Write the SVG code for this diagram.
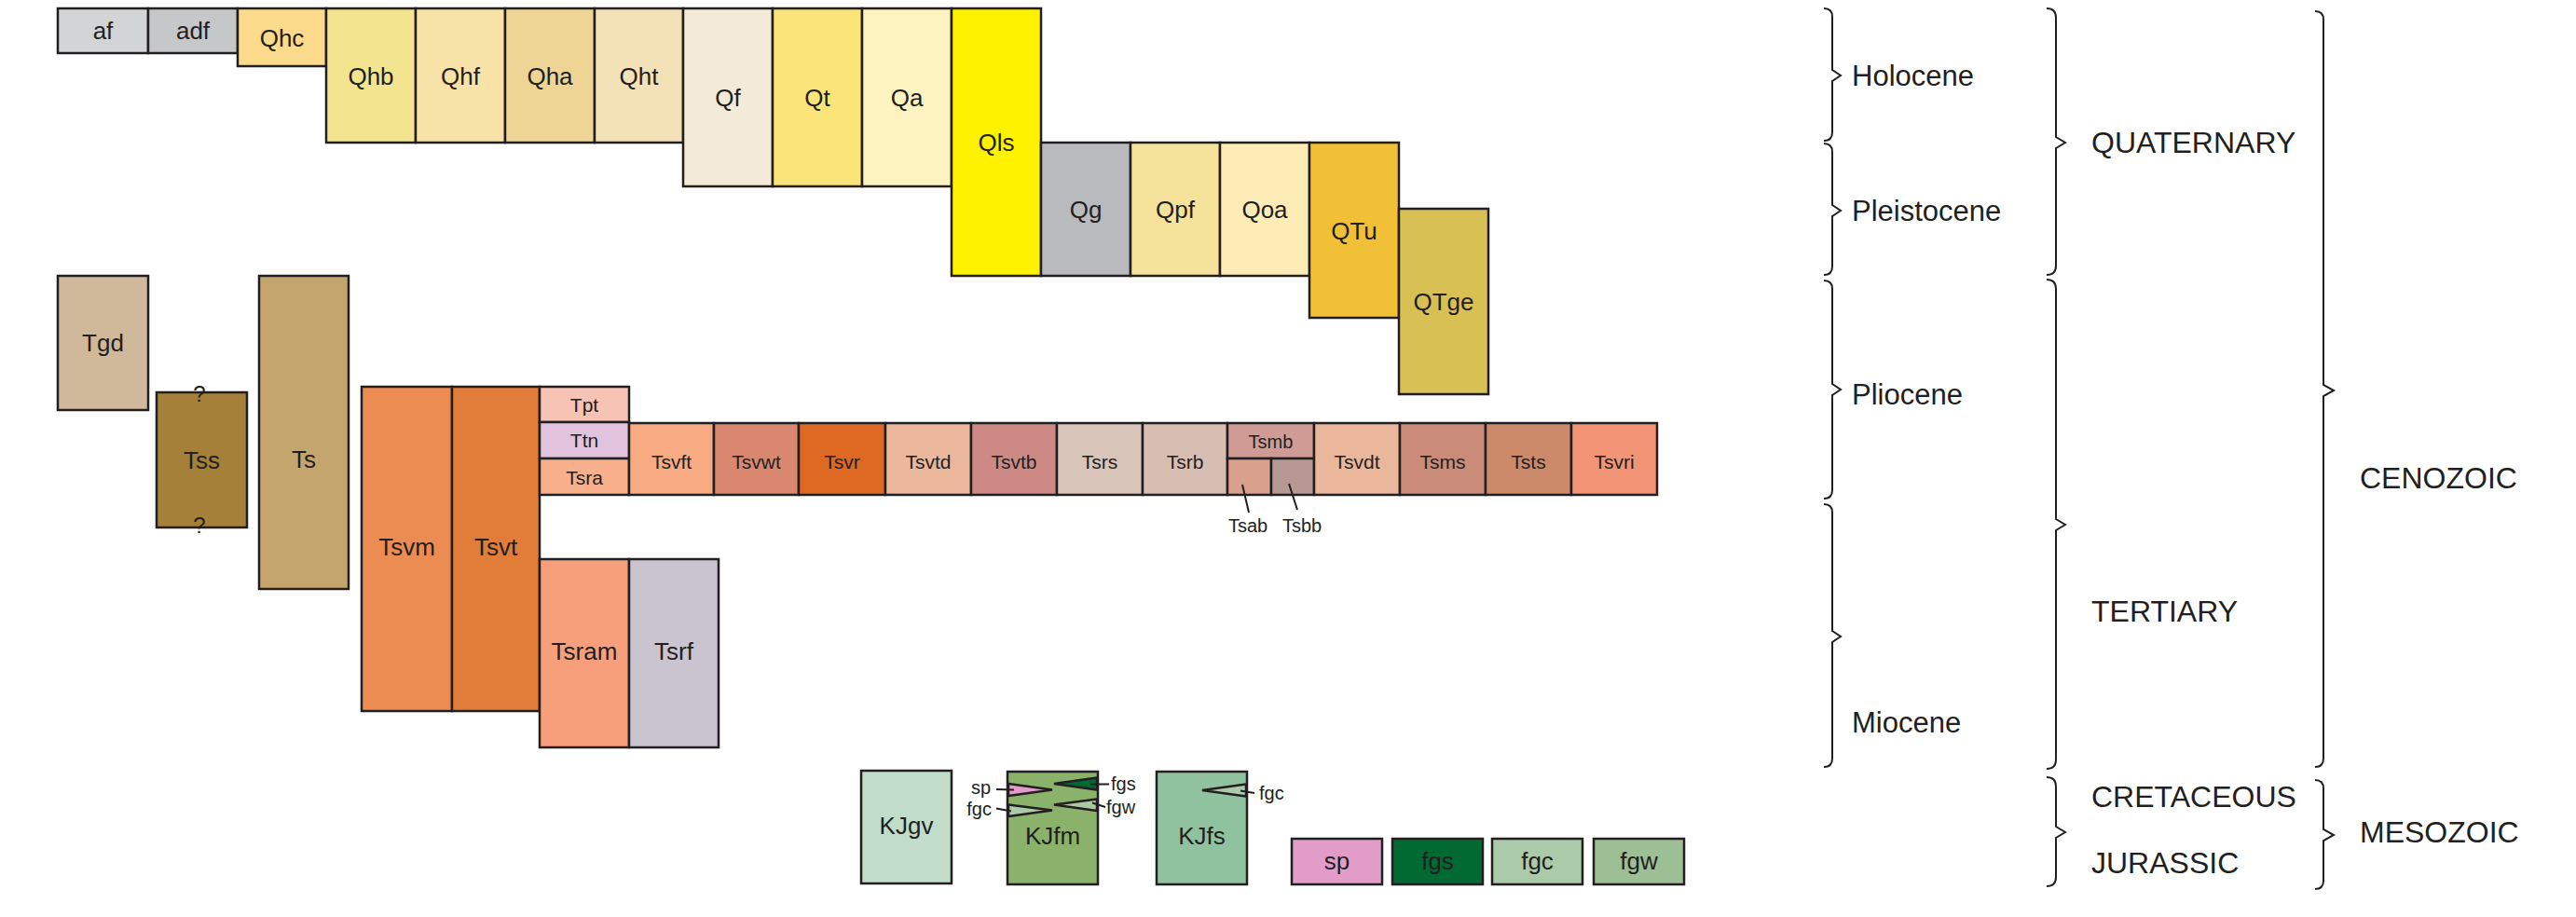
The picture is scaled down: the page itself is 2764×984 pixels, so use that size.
<svg xmlns="http://www.w3.org/2000/svg" width="2764" height="984" viewBox="0 0 2764 984">
  <style>
    .b{stroke:#231f20;stroke-width:2.5}
    .t{font-family:"Liberation Sans",Arial,Helvetica,sans-serif;fill:#231f20;text-anchor:middle;font-size:26px}
    .m{font-size:21px}
    .s{font-size:20px}
    .e{font-family:"Liberation Sans",Arial,Helvetica,sans-serif;fill:#231f20;font-size:31px}
    .p{font-size:32px}
    .br{fill:none;stroke:#231f20;stroke-width:2;stroke-linejoin:miter}
    .ld{stroke:#231f20;stroke-width:2;fill:none}
    .tr{stroke:#231f20;stroke-width:2.5;stroke-linejoin:miter}
  </style>
  <rect width="2764" height="984" fill="#ffffff"/>

  <!-- Quaternary units -->
  <g id="af"><rect class="b" x="62" y="9" width="97" height="48" fill="#d3d4d6"/><text class="t" x="110.5" y="42">af</text></g>
  <g id="adf"><rect class="b" x="159" y="9" width="96" height="48" fill="#c6c7c9"/><text class="t" x="207" y="42">adf</text></g>
  <g id="Qhc"><rect class="b" x="255" y="9" width="95" height="62" fill="#fbdb8b"/><text class="t" x="302.5" y="49.5">Qhc</text></g>
  <g id="Qhb"><rect class="b" x="350" y="9" width="96" height="144" fill="#f3e48f"/><text class="t" x="398" y="90.5">Qhb</text></g>
  <g id="Qhf"><rect class="b" x="446" y="9" width="96" height="144" fill="#f7e2a8"/><text class="t" x="494" y="90.5">Qhf</text></g>
  <g id="Qha"><rect class="b" x="542" y="9" width="96" height="144" fill="#eed595"/><text class="t" x="590" y="90.5">Qha</text></g>
  <g id="Qht"><rect class="b" x="638" y="9" width="95" height="144" fill="#f3e2b8"/><text class="t" x="685.5" y="90.5">Qht</text></g>
  <g id="Qf"><rect class="b" x="733" y="9" width="96" height="191" fill="#f3ebd7"/><text class="t" x="781" y="114">Qf</text></g>
  <g id="Qt"><rect class="b" x="829" y="9" width="96" height="191" fill="#fbe57a"/><text class="t" x="877" y="114">Qt</text></g>
  <g id="Qa"><rect class="b" x="925" y="9" width="96" height="191" fill="#fcf3c0"/><text class="t" x="973" y="114">Qa</text></g>
  <g id="Qls"><rect class="b" x="1021" y="9" width="96" height="287" fill="#fef200"/><text class="t" x="1069" y="162">Qls</text></g>
  <g id="Qg"><rect class="b" x="1117" y="153" width="96" height="143" fill="#b9babd"/><text class="t" x="1165" y="234">Qg</text></g>
  <g id="Qpf"><rect class="b" x="1213" y="153" width="96" height="143" fill="#f5e29b"/><text class="t" x="1261" y="234">Qpf</text></g>
  <g id="Qoa"><rect class="b" x="1309" y="153" width="96" height="143" fill="#fdecb5"/><text class="t" x="1357" y="234">Qoa</text></g>
  <g id="QTu"><rect class="b" x="1405" y="153" width="96" height="188" fill="#f1c036"/><text class="t" x="1453" y="256.5">QTu</text></g>
  <g id="QTge"><rect class="b" x="1501" y="224" width="96" height="199" fill="#d9c054"/><text class="t" x="1549" y="333">QTge</text></g>

  <!-- Tertiary units -->
  <g id="Tgd"><rect class="b" x="62" y="296" width="97" height="144" fill="#d0b89a"/><text class="t" x="110.5" y="377">Tgd</text></g>
  <g id="Tss"><rect class="b" x="168" y="421" width="97" height="145" fill="#a58038"/><text class="t" x="216.5" y="503">Tss</text>
    <text class="t" x="214" y="431" style="font-size:24px">?</text>
    <text class="t" x="214" y="572" style="font-size:24px">?</text></g>
  <g id="Ts"><rect class="b" x="278" y="296" width="96" height="336" fill="#c4a56d"/><text class="t" x="326" y="502">Ts</text></g>
  <g id="Tsvm"><rect class="b" x="388" y="415" width="97" height="348" fill="#eb8c52"/><text class="t" x="436.5" y="596">Tsvm</text></g>
  <g id="Tsvt"><rect class="b" x="485" y="415" width="94" height="348" fill="#e27c39"/><text class="t" x="532" y="596">Tsvt</text></g>
  <g id="Tpt"><rect class="b" x="579" y="415" width="96" height="38" fill="#f6c3b5"/><text class="t m" x="627" y="441.5">Tpt</text></g>
  <g id="Ttn"><rect class="b" x="579" y="453" width="96" height="39" fill="#e2c3de"/><text class="t m" x="627" y="480">Ttn</text></g>
  <g id="Tsra"><rect class="b" x="579" y="492" width="96" height="39" fill="#f8b08c"/><text class="t m" x="627" y="519.5">Tsra</text></g>
  <g id="Tsvft"><rect class="b" x="675" y="454" width="91" height="77" fill="#f8aa82"/><text class="t m" x="720.5" y="503">Tsvft</text></g>
  <g id="Tsvwt"><rect class="b" x="766" y="454" width="91" height="77" fill="#da8770"/><text class="t m" x="811.5" y="503">Tsvwt</text></g>
  <g id="Tsvr"><rect class="b" x="857" y="454" width="93" height="77" fill="#dd6922"/><text class="t m" x="903.5" y="503">Tsvr</text></g>
  <g id="Tsvtd"><rect class="b" x="950" y="454" width="92" height="77" fill="#eab79c"/><text class="t m" x="996" y="503">Tsvtd</text></g>
  <g id="Tsvtb"><rect class="b" x="1042" y="454" width="92" height="77" fill="#cd8a85"/><text class="t m" x="1088" y="503">Tsvtb</text></g>
  <g id="Tsrs"><rect class="b" x="1134" y="454" width="92" height="77" fill="#d9c4ba"/><text class="t m" x="1180" y="503">Tsrs</text></g>
  <g id="Tsrb"><rect class="b" x="1226" y="454" width="91" height="77" fill="#d8bdb3"/><text class="t m" x="1271.5" y="503">Tsrb</text></g>
  <g id="Tsmb"><rect class="b" x="1317" y="454" width="93" height="38" fill="#d09b94"/><text class="t s" x="1363.5" y="480.5">Tsmb</text></g>
  <g id="Tsab"><rect class="b" x="1317" y="492" width="47" height="39" fill="#d9a18b"/><text class="t s" x="1339" y="571">Tsab</text></g>
  <g id="Tsbb"><rect class="b" x="1364" y="492" width="46" height="39" fill="#b79893"/><text class="t s" x="1397" y="571">Tsbb</text></g>
  <g id="Tsvdt"><rect class="b" x="1410" y="454" width="92" height="77" fill="#eab79c"/><text class="t m" x="1456" y="503">Tsvdt</text></g>
  <g id="Tsms"><rect class="b" x="1502" y="454" width="92" height="77" fill="#cb8b79"/><text class="t m" x="1548" y="503">Tsms</text></g>
  <g id="Tsts"><rect class="b" x="1594" y="454" width="92" height="77" fill="#cd8a6a"/><text class="t m" x="1640" y="503">Tsts</text></g>
  <g id="Tsvri"><rect class="b" x="1686" y="454" width="92" height="77" fill="#f49477"/><text class="t m" x="1732" y="503">Tsvri</text></g>
  <g id="Tsram"><rect class="b" x="579" y="600" width="96" height="202" fill="#f79f7b"/><text class="t" x="627" y="708">Tsram</text></g>
  <g id="Tsrf"><rect class="b" x="675" y="600" width="96" height="202" fill="#cac3d0"/><text class="t" x="723" y="708">Tsrf</text></g>

  <!-- Mesozoic units -->
  <g id="KJgv"><rect class="b" x="924" y="827" width="97" height="121" fill="#c1dcc8"/><text class="t" x="972.5" y="895">KJgv</text></g>
  <g id="KJfm"><rect class="b" x="1081" y="828" width="97" height="121" fill="#8ab26a"/>
    <polygon class="tr" points="1082,841 1129,847.5 1082,854" fill="#e19dc8"/>
    <polygon class="tr" points="1082,863.5 1129,869.5 1082,876" fill="#abcaa9"/>
    <polygon class="tr" points="1177,834.5 1131,841 1177,847.5" fill="#006a32"/>
    <polygon class="tr" points="1177,857.5 1131,863.5 1177,870" fill="#a9c8a3"/>
    <text class="t" x="1129.5" y="906">KJfm</text>
    <text class="t s" x="1063" y="852" style="text-anchor:end">sp</text>
    <text class="t s" x="1064" y="875" style="text-anchor:end">fgc</text>
    <text class="t s" x="1192" y="848" style="text-anchor:start">fgs</text>
    <text class="t s" x="1187" y="873" style="text-anchor:start">fgw</text></g>
  <g id="KJfs"><rect class="b" x="1241" y="828" width="97" height="121" fill="#90c29f"/>
    <polygon class="tr" points="1337,841.5 1290,848 1337,854.5" fill="#abcaa9"/>
    <text class="t" x="1289.5" y="906">KJfs</text>
    <text class="t s" x="1351" y="858" style="text-anchor:start">fgc</text></g>

  <!-- Legend swatches -->
  <g id="legend-sp"><rect class="b" x="1386" y="900" width="97" height="49" fill="#e19dc8"/><text class="t" x="1434.5" y="933">sp</text></g>
  <g id="legend-fgs"><rect class="b" x="1494" y="900" width="97" height="49" fill="#006a32"/><text class="t" x="1542.5" y="933">fgs</text></g>
  <g id="legend-fgc"><rect class="b" x="1601" y="900" width="97" height="49" fill="#abcaa9"/><text class="t" x="1649.5" y="933">fgc</text></g>
  <g id="legend-fgw"><rect class="b" x="1710" y="900" width="97" height="49" fill="#9cbf96"/><text class="t" x="1758.5" y="933">fgw</text></g>

  <!-- Leader lines -->
  <g id="connectors">
    <line class="ld" x1="1333" y1="520" x2="1340" y2="550"/>
    <line class="ld" x1="1383" y1="519" x2="1392" y2="547"/>
    <line class="ld" x1="1069" y1="847" x2="1088" y2="847.5"/>
    <line class="ld" x1="1069" y1="867.5" x2="1085" y2="870.5"/>
    <line class="ld" x1="1170" y1="841.5" x2="1190" y2="841.5"/>
    <line class="ld" x1="1172" y1="861.5" x2="1186" y2="866"/>
    <line class="ld" x1="1331" y1="848.5" x2="1346" y2="851"/>
  </g>

  <!-- Time-scale braces -->
  <g id="epochs">
    <path class="br" d="M1957,9 Q1966,9 1966,18 L1966,75 L1975,81 L1966,87 L1966,142 Q1966,151 1957,151"/>
    <path class="br" d="M1957,154 Q1966,154 1966,163 L1966,220 L1975,226 L1966,232 L1966,286 Q1966,295 1957,295"/>
    <path class="br" d="M1957,301 Q1966,301 1966,310 L1966,412 L1975,418 L1966,424 L1966,526 Q1966,535 1957,535"/>
    <path class="br" d="M1957,541 Q1966,541 1966,550 L1966,677 L1975,683 L1966,689 L1966,814 Q1966,823 1957,823"/>
    <text class="e" x="1987" y="92">Holocene</text>
    <text class="e" x="1987" y="237">Pleistocene</text>
    <text class="e" x="1987" y="434">Pliocene</text>
    <text class="e" x="1987" y="786">Miocene</text>
  </g>
  <g id="periods">
    <path class="br" d="M2196,9 Q2206,9 2206,19 L2206,147 L2216,153 L2206,159 L2206,285 Q2206,295 2196,295"/>
    <path class="br" d="M2196,300 Q2206,300 2206,310 L2206,557 L2216,563 L2206,569 L2206,815 Q2206,825 2196,825"/>
    <path class="br" d="M2196,834 Q2206,834 2206,844 L2206,887 L2216,893 L2206,899 L2206,941 Q2206,951 2196,951"/>
    <text class="e p" x="2244" y="164">QUATERNARY</text>
    <text class="e p" x="2244" y="667">TERTIARY</text>
    <text class="e p" x="2244" y="866">CRETACEOUS</text>
    <text class="e p" x="2244" y="937">JURASSIC</text>
  </g>
  <g id="eras">
    <path class="br" d="M2484,12 Q2493,12 2493,21 L2493,413 L2504,419 L2493,425 L2493,814 Q2493,823 2484,823"/>
    <path class="br" d="M2484,837 Q2493,837 2493,846 L2493,890 L2504,896 L2493,902 L2493,945 Q2493,954 2484,954"/>
    <text class="e p" x="2532" y="524">CENOZOIC</text>
    <text class="e p" x="2532" y="904">MESOZOIC</text>
  </g>
</svg>
